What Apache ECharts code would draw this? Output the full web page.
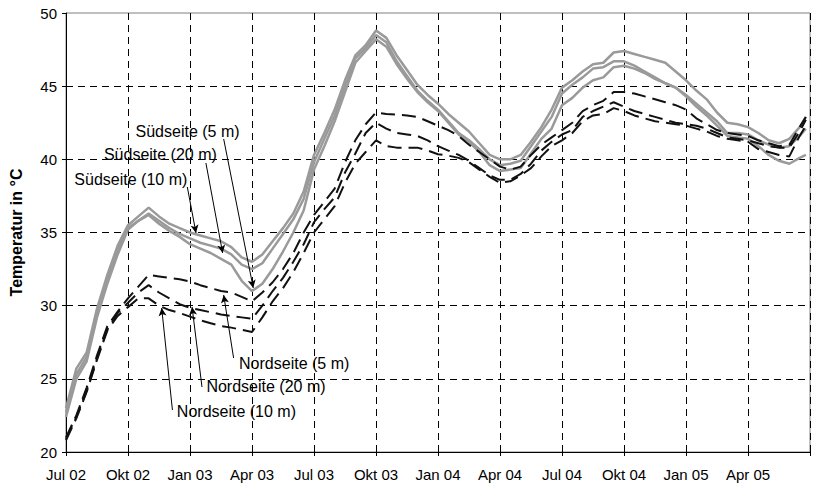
<!DOCTYPE html>
<html>
<head>
<meta charset="utf-8">
<script src="https://cdn.jsdelivr.net/npm/echarts@6/dist/echarts.min.js"></script>
<style>
  html, body { margin: 0; padding: 0; background: #fff; }
  #chart { width: 813px; height: 490px; }
</style>
</head>
<body>
<div id="chart"></div>
<script>
// x positions: months since 1 Jul 2002 (half-month steps)
const months = [0,0.5,1,1.5,2,2.5,3,3.5,4,4.5,5,5.5,6,6.5,7,7.5,8,8.5,9,9.5,
  10,10.5,11,11.5,12,12.5,13,13.5,14,14.5,15,15.5,16,16.5,17,17.5,18,18.5,19,19.5,
  20,20.5,21,21.5,22,22.5,23,23.5,24,24.5,25,25.5,26,26.5,27,27.5,28,28.5,29,29.5,
  30,30.5,31,31.5,32,32.5,33,33.5,34,34.5,35,35.5,35.8];

// quarterly tick labels (every 3 months)
const tickLabels = ['Jul 02','Okt 02','Jan 03','Apr 03','Jul 03','Okt 03',
  'Jan 04','Apr 04','Jul 04','Okt 04','Jan 05','Apr 05'];

// temperatures in °C
const suedseite10 = [23.0,25.7,26.8,29.8,32.1,34.1,35.5,36.1,36.7,36.1,
  35.6,35.3,35.0,34.8,34.6,34.4,34.0,33.3,33.0,33.5,
  34.4,35.3,36.3,37.8,40.3,41.8,43.4,45.4,47.1,47.8,
  48.8,48.3,47.1,46.1,45.1,44.4,43.8,43.1,42.5,41.9,
  41.1,40.3,40.0,40.0,40.3,41.2,42.2,43.4,44.9,45.4,
  46.0,46.5,46.6,47.3,47.4,47.2,47.0,46.8,46.6,46.0,
  45.4,44.7,44.1,43.2,42.5,42.4,42.2,41.8,41.3,41.1,
  41.4,42.2,42.9];
const suedseite20 = [22.7,25.3,26.5,29.5,31.8,33.8,35.3,35.8,36.3,35.8,
  35.3,34.9,34.6,34.3,34.1,33.9,33.5,32.8,32.5,32.9,
  33.9,34.9,35.9,37.3,39.8,41.4,43.0,45.0,46.9,47.6,
  48.5,48.0,46.7,45.7,44.7,44.0,43.4,42.6,41.8,41.3,
  40.7,40.0,39.6,39.7,39.9,40.9,41.9,42.9,44.5,45.1,
  45.6,46.2,46.3,46.7,46.7,46.4,46.0,45.6,45.2,44.9,
  44.4,43.8,43.2,42.6,41.8,41.8,41.7,41.3,41.0,40.8,
  40.9,41.6,42.1];
const suedseite5 = [22.4,25.0,26.2,29.2,31.5,33.5,35.2,35.8,36.2,35.6,
  35.1,34.7,34.2,33.9,33.6,33.2,32.8,31.7,31.0,31.5,
  32.5,33.7,35.0,36.5,39.3,40.9,42.6,44.6,46.6,47.4,
  48.2,47.7,46.5,45.5,44.6,43.9,43.3,42.5,41.7,41.2,
  40.5,39.6,39.2,39.3,39.4,40.4,41.4,42.1,43.7,44.2,
  44.9,45.4,45.6,46.3,46.4,46.2,45.9,45.5,45.2,44.9,
  44.3,43.6,43.0,42.3,41.6,41.5,41.4,40.9,40.3,39.9,
  39.7,40.1,40.3];
const nordseite5 = [21.0,22.5,24.4,26.6,28.6,29.6,30.5,31.3,32.1,32.0,
  31.9,31.8,31.65,31.4,31.2,31.0,30.9,30.6,30.3,30.9,
  31.6,32.5,33.6,35.0,36.2,37.1,38.0,39.8,41.3,42.4,
  43.2,43.1,43.05,43.0,42.9,42.6,42.3,42.0,41.6,41.0,
  40.5,40.0,39.5,39.3,39.5,40.3,41.0,41.5,42.0,42.5,
  43.3,43.7,44.0,44.6,44.6,44.5,44.3,44.1,43.9,43.7,
  43.4,42.8,42.4,42.0,41.8,41.7,41.6,41.3,41.1,40.9,
  41.0,42.2,42.9];
const nordseite20 = [20.9,22.4,24.2,26.4,28.4,29.5,30.2,30.9,31.4,30.9,
  30.5,30.1,29.85,29.7,29.55,29.4,29.3,29.2,29.1,30.0,
  31.0,31.9,33.0,34.2,35.7,36.6,37.4,39.1,40.4,41.8,
  42.5,42.1,41.8,41.7,41.6,41.3,40.9,40.6,40.3,39.9,
  39.4,38.9,38.6,38.6,39.0,39.7,40.6,41.2,41.7,42.0,
  42.9,43.3,43.6,43.9,43.6,43.3,43.1,42.9,42.7,42.5,
  42.4,42.3,42.1,41.8,41.5,41.4,41.3,41.1,40.9,40.8,
  40.8,41.9,42.7];
const nordseite10 = [20.8,22.3,24.1,26.3,28.3,29.3,29.9,30.5,30.5,30.0,
  29.7,29.5,29.25,29.0,28.8,28.6,28.5,28.35,28.2,29.2,
  30.3,31.2,32.3,33.6,35.0,35.9,36.8,38.4,39.7,40.5,
  41.3,40.9,40.8,40.8,40.8,40.6,40.35,40.25,40.1,39.8,
  39.3,38.8,38.4,38.5,38.9,39.4,40.2,40.9,41.3,41.8,
  42.6,43.0,43.1,43.5,43.3,43.0,42.8,42.6,42.5,42.4,
  42.3,42.1,41.9,41.6,41.4,41.3,41.2,40.7,40.5,40.3,
  40.2,41.6,42.3];

const seriesNames = ['Südseite (5 m)','Südseite (20 m)','Südseite (10 m)',
  'Nordseite (5 m)','Nordseite (20 m)','Nordseite (10 m)'];

// callout text anchors and arrow [start, tip] in axis units (months, °C)
const calloutText = [[3.34,41.87],[1.81,40.30],[0.38,38.59],[8.35,26.08],[6.77,24.51],[5.34,22.80]];
const calloutArrow = [
  [[7.63,41.39],[9.06,31.21]],
  [[6.77,39.75],[7.58,33.60]],
  [[5.87,38.11],[6.29,34.97]],
  [[8.11,26.42],[7.63,30.73]],
  [[6.58,24.44],[6.10,29.91]],
  [[5.15,22.87],[4.63,29.84]]
];

const FONT = '"Liberation Sans", Arial, sans-serif';

function pairs(vals) { return months.map((m, i) => [m, vals[i]]); }

function callout(i) {
  return {
    markLine: {
      silent: true,
      animation: false,
      symbol: ['none', 'arrow'],
      symbolSize: [6, 8],
      lineStyle: { color: '#000', width: 1, type: 'solid' },
      label: { show: false },
      emphasis: { disabled: true },
      data: [[{ coord: calloutArrow[i][0] }, { coord: calloutArrow[i][1] }]]
    },
    markPoint: {
      silent: true,
      animation: false,
      symbol: 'rect',
      symbolSize: 1,
      itemStyle: { color: 'rgba(0,0,0,0)' },
      label: {
        show: true, position: 'right', distance: 0, formatter: '{b}',
        color: '#000', fontSize: 16, fontFamily: FONT
      },
      data: [{ name: seriesNames[i], coord: calloutText[i] }]
    }
  };
}

function greyLine(i, vals) {
  return Object.assign({
    name: seriesNames[i], type: 'line', data: pairs(vals),
    showSymbol: false, silent: true,
    lineStyle: { color: '#9a9a9a', width: 2.5 }
  }, callout(i));
}
function dashLine(i, vals) {
  return Object.assign({
    name: seriesNames[i], type: 'line', data: pairs(vals),
    showSymbol: false, silent: true,
    lineStyle: { color: '#111', width: 2, type: [14, 7] }
  }, callout(i));
}

const chart = echarts.init(document.getElementById('chart'), null, { renderer: 'svg' });
chart.setOption({
  animation: false,
  backgroundColor: '#fff',
  grid: { left: 60, top: 13, width: 755, height: 439, show: true,
          borderColor: '#808080', borderWidth: 1, backgroundColor: 'transparent' },
  xAxis: {
    type: 'value', min: 0, max: 36, interval: 3,
    axisLine: { show: true, lineStyle: { color: '#000', width: 1 } },
    axisTick: { show: true, length: 4, lineStyle: { color: '#000' } },
    axisLabel: {
      margin: 15, color: '#000', fontSize: 15, fontFamily: FONT,
      formatter: v => tickLabels[Math.round(v / 3)] || ''
    },
    splitLine: { show: true, showMinLine: false,
      lineStyle: { color: '#000', width: 1, type: [7, 5] } }
  },
  yAxis: {
    type: 'value', min: 20, max: 50, interval: 5,
    name: 'Temperatur in °C', nameLocation: 'middle', nameGap: 42,
    nameTextStyle: { color: '#000', fontSize: 16, fontWeight: 'bold', fontFamily: FONT },
    axisLine: { show: true, lineStyle: { color: '#000', width: 1 } },
    axisTick: { show: true, length: 4, lineStyle: { color: '#000' } },
    axisLabel: { margin: 9, color: '#000', fontSize: 15, fontFamily: FONT },
    splitLine: { show: true, showMinLine: false, showMaxLine: false,
      lineStyle: { color: '#000', width: 1, type: [7, 5] } }
  },
  series: [
    greyLine(0, suedseite5),
    greyLine(1, suedseite20),
    greyLine(2, suedseite10),
    dashLine(3, nordseite5),
    dashLine(4, nordseite20),
    dashLine(5, nordseite10)
  ]
});
</script>
</body>
</html>
